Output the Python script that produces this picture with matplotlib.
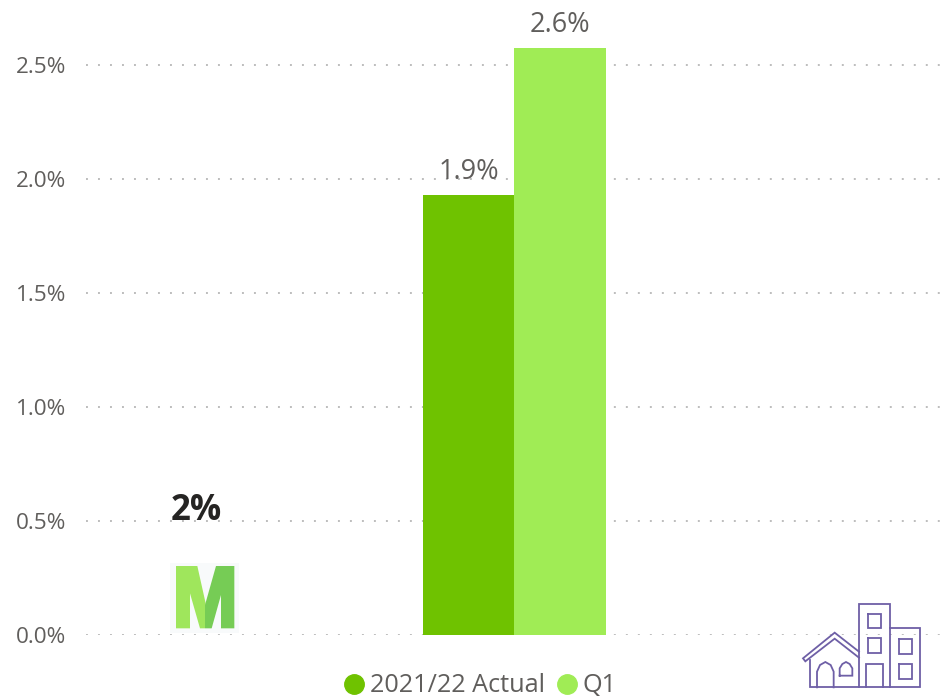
import matplotlib
matplotlib.use("Agg")
import matplotlib.pyplot as plt
from matplotlib.lines import Line2D
from matplotlib.patches import Polygon, Rectangle

plt.rcParams['font.family'] = ['Open Sans', 'DejaVu Sans']

series_names = ["2021/22 Actual", "Q1"]
series_values = [1.93, 2.574]
series_colors = ["#6FC200", "#A0EC55"]
y_ticks = [0.0, 0.5, 1.0, 1.5, 2.0, 2.5]
card_label = "2%"

W, H = 948, 698
TEXT = "#605E5C"
fig = plt.figure(figsize=(W / 100, H / 100), dpi=100, facecolor="white")
ax = fig.add_axes([86 / W, (H - 635) / H, (W - 86) / W, 635 / H])
ax.set_ylim(0, 635 / 228)
ax.set_xlim(-0.4968, 0.5032)
bar_w = 91.5 / 862
for i, (name, v, c) in enumerate(zip(series_names, series_values, series_colors)):
    bars = ax.bar((i - 0.5) * bar_w, v, width=bar_w, color=c, zorder=3, label=name)
    ax.bar_label(bars, fmt='%.1f%%', padding=6.5, fontsize=19.5, color=TEXT)
for s in ax.spines.values():
    s.set_visible(False)
ax.set_xticks([])
ax.set_yticks(y_ticks)
ax.set_yticklabels([f"{t:.1f}%" for t in y_ticks], fontsize=16.2, color=TEXT)
ax.tick_params(axis='y', length=0, pad=14.5)
ax.yaxis.grid(True, color="#BDBDBD", linewidth=1.4, linestyle=(0, (1, 5.17)), zorder=0)
ax.set_axisbelow(True)
ax.patch.set_alpha(0)

handles = [Line2D([], [], marker='o', linestyle='none', markersize=14, color=c) for c in series_colors]
fig.legend(handles, series_names, loc='center', bbox_to_anchor=(479 / W, 1 - 686 / H), ncol=2, frameon=False,
           fontsize=18.2, labelcolor=TEXT, handlelength=1, handletextpad=0.1, columnspacing=0.38, borderpad=0)

ov = fig.add_axes([0, 0, 1, 1], zorder=5)
ov.set_xlim(0, W)
ov.set_ylim(H, 0)
ov.axis('off')
ov.text(196, 511, card_label, fontsize=25, fontweight='bold', color="#252423", ha='center', va='center')

# M logo
zx = lambda x: 140 + x / 3
zy = lambda y: 470 + y / 3
ov.add_patch(Rectangle((170, 563), 69, 70, color="#F8FAFB", lw=0))
light = [(108, 288), (172, 288), (197, 400), (195, 475), (180, 475), (150, 370), (150, 475), (108, 475)]
dark = [(228, 288), (283, 288), (283, 475), (243, 475), (243, 375), (215, 475), (195, 475), (195, 405)]
ov.add_patch(Polygon([(zx(a), zy(b)) for a, b in light], color="#9FE65C", lw=0))
ov.add_patch(Polygon([(zx(a), zy(b)) for a, b in dark], color="#76CC55", lw=0))

# Buildings icon
PURPLE = "#6E5FA6"
hx = lambda x: 790 + x / 3
hy = lambda y: 590 + y / 3
paths = [
    [(207, 292), (207, 41), (300, 41), (300, 292)],
    [(300, 115), (391, 115), (391, 292), (60, 292), (60, 210)],
    [(235, 72), (274, 72), (274, 115), (235, 115), (235, 72)],
    [(235, 145), (274, 145), (274, 189), (235, 189), (235, 145)],
    [(229, 292), (229, 223), (278, 223), (278, 292)],
    [(326, 148), (366, 148), (366, 191), (326, 191), (326, 148)],
    [(326, 223), (366, 223), (366, 267), (326, 267), (326, 223)],
    [(207, 185), (134, 128), (39, 205), (46, 214), (134, 146), (207, 203)],
    [(81, 292), (81, 245), (90, 225), (106, 216), (122, 225), (131, 245), (131, 292)],
    [(149, 257), (149, 235), (157, 222), (168, 216), (179, 222), (187, 235), (187, 257), (149, 257)],
]
for p in paths:
    ov.plot([hx(a) for a, _ in p], [hy(b) for _, b in p], color=PURPLE, lw=1.3, solid_joinstyle='miter')

fig.savefig("out.png", dpi=100)
